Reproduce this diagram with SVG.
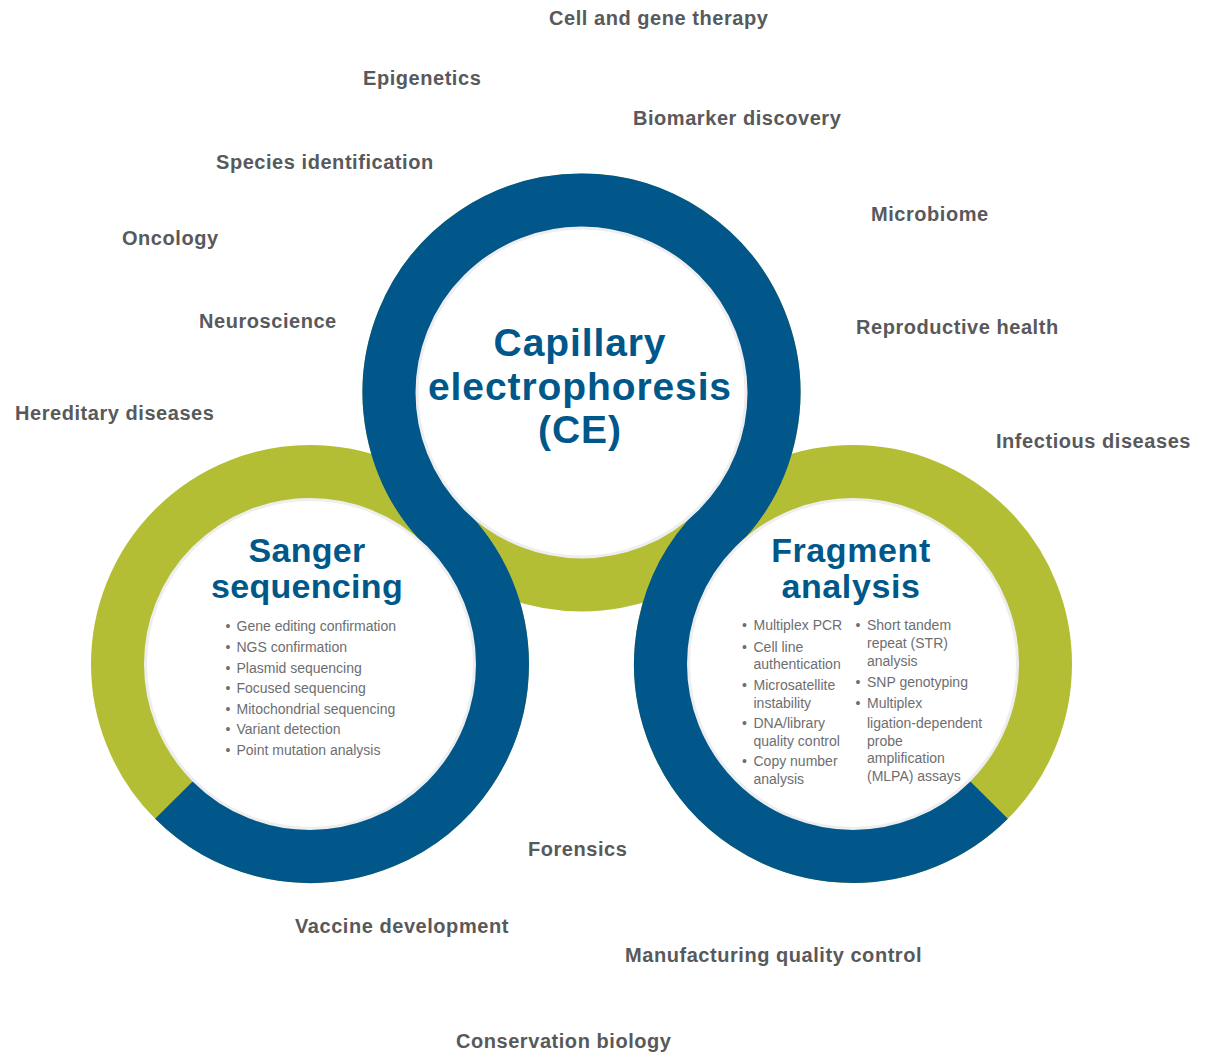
<svg xmlns="http://www.w3.org/2000/svg" width="1207" height="1052" viewBox="0 0 1207 1052">
<style>
.lbl{font-family:"Liberation Sans",Arial,sans-serif;font-weight:bold;font-size:20px;letter-spacing:0.55px;fill:#58595b}
.ttl{font-family:"Liberation Sans",Arial,sans-serif;font-weight:bold;fill:#00578a;text-anchor:middle}
.bul{font-family:"Liberation Sans",Arial,sans-serif;font-size:14px;fill:#6d6e71}
.green{fill:none;stroke:#b3be35;stroke-width:54}
.inner{fill:#ffffff;stroke:#eeeeef;stroke-width:3}
</style>
<rect width="1207" height="1052" fill="#ffffff"/>
<g id="rings-green">
<circle class="green" cx="310" cy="664" r="192"/>
<circle class="green" cx="853" cy="664" r="192"/>
<circle class="green" cx="581.5" cy="392.5" r="192"/>
</g>
<g id="connectors">
<path d="M174.24,799.76 A192,192 0 0 0 502,664 A192,192 0 0 0 445.75,528.25 A192,192 0 0 1 581.5,200.5 A192,192 0 0 1 717.25,528.25 A192,192 0 0 0 853,856 A192,192 0 0 0 988.76,799.76" fill="none" stroke="#02578a" stroke-width="54"/>
</g>
<g id="node-ce">
<circle class="inner" cx="581.5" cy="392.5" r="164.5"/>
<text class="ttl" font-size="39" letter-spacing="0.9"><tspan x="580" y="356">Capillary</tspan><tspan x="580" y="400">electrophoresis</tspan><tspan x="580" y="443">(CE)</tspan></text>
</g>
<g id="node-sanger">
<circle class="inner" cx="310" cy="664" r="164.5"/>
<text class="ttl" font-size="34" letter-spacing="0.3"><tspan x="307" y="562">Sanger</tspan><tspan x="307" y="598">sequencing</tspan></text>
<text class="bul">
<tspan x="225.5" y="631">•</tspan><tspan x="236.5" y="631">Gene editing confirmation</tspan>
<tspan x="225.5" y="652">•</tspan><tspan x="236.5" y="652">NGS confirmation</tspan>
<tspan x="225.5" y="672.5">•</tspan><tspan x="236.5" y="672.5">Plasmid sequencing</tspan>
<tspan x="225.5" y="693">•</tspan><tspan x="236.5" y="693">Focused sequencing</tspan>
<tspan x="225.5" y="713.5">•</tspan><tspan x="236.5" y="713.5">Mitochondrial sequencing</tspan>
<tspan x="225.5" y="734">•</tspan><tspan x="236.5" y="734">Variant detection</tspan>
<tspan x="225.5" y="755">•</tspan><tspan x="236.5" y="755">Point mutation analysis</tspan>
</text>
</g>
<g id="node-fragment">
<circle class="inner" cx="853" cy="664" r="164.5"/>
<text class="ttl" font-size="34" letter-spacing="0.6"><tspan x="851" y="562">Fragment</tspan><tspan x="851" y="598">analysis</tspan></text>
<text class="bul">
<tspan x="742" y="630">•</tspan><tspan x="753.5" y="630">Multiplex PCR</tspan>
<tspan x="742" y="651.5">•</tspan><tspan x="753.5" y="651.5">Cell line</tspan>
<tspan x="753.5" y="669">authentication</tspan>
<tspan x="742" y="689.5">•</tspan><tspan x="753.5" y="689.5">Microsatellite</tspan>
<tspan x="753.5" y="707.5">instability</tspan>
<tspan x="742" y="727.5">•</tspan><tspan x="753.5" y="727.5">DNA/library</tspan>
<tspan x="753.5" y="745.5">quality control</tspan>
<tspan x="742" y="766">•</tspan><tspan x="753.5" y="766">Copy number</tspan>
<tspan x="753.5" y="784">analysis</tspan>
<tspan x="855.5" y="630">•</tspan><tspan x="867" y="630">Short tandem</tspan>
<tspan x="867" y="648">repeat (STR)</tspan>
<tspan x="867" y="666">analysis</tspan>
<tspan x="855.5" y="687">•</tspan><tspan x="867" y="687">SNP genotyping</tspan>
<tspan x="855.5" y="707.5">•</tspan><tspan x="867" y="707.5">Multiplex</tspan>
<tspan x="867" y="727.5">ligation-dependent</tspan>
<tspan x="867" y="745.5">probe</tspan>
<tspan x="867" y="763">amplification</tspan>
<tspan x="867" y="780.5">(MLPA) assays</tspan>
</text>
</g>
<g id="labels">
<text class="lbl" x="549" y="24.5">Cell and gene therapy</text>
<text class="lbl" x="363" y="85">Epigenetics</text>
<text class="lbl" x="633" y="125">Biomarker discovery</text>
<text class="lbl" x="216" y="169">Species identification</text>
<text class="lbl" x="871" y="221">Microbiome</text>
<text class="lbl" x="122" y="245">Oncology</text>
<text class="lbl" x="199" y="328">Neuroscience</text>
<text class="lbl" x="856" y="334">Reproductive health</text>
<text class="lbl" x="15" y="420">Hereditary diseases</text>
<text class="lbl" x="996" y="448">Infectious diseases</text>
<text class="lbl" x="528" y="856">Forensics</text>
<text class="lbl" x="295" y="933">Vaccine development</text>
<text class="lbl" x="625" y="962">Manufacturing quality control</text>
<text class="lbl" x="456" y="1048">Conservation biology</text>
</g>
</svg>
